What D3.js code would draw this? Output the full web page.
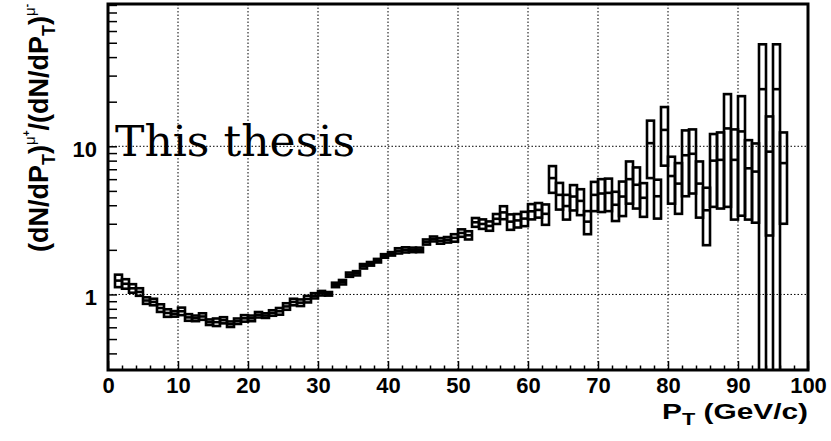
<!DOCTYPE html>
<html>
<head>
<meta charset="utf-8">
<script src="https://cdn.jsdelivr.net/npm/d3@7"></script>
<style>
body { margin: 0; background: #fff; }
</style>
</head>
<body>
<div id="chart"></div>
<script>
// lower edge of each 1 GeV/c bin
const binLow = [1, 2, 3, 4, 5, 6, 7, 8, 9, 10, 11, 12, 13, 14, 15, 16, 17, 18, 19, 20,
  21, 22, 23, 24, 25, 26, 27, 28, 29, 30, 31, 32, 33, 34, 35, 36, 37, 38, 39, 40,
  41, 42, 43, 44, 45, 46, 47, 48, 49, 50, 51, 52, 53, 54, 55, 56, 57, 58, 59, 60,
  61, 62, 63, 64, 65, 66, 67, 68, 69, 70, 71, 72, 73, 74, 75, 76, 77, 78, 79, 80,
  81, 82, 83, 84, 85, 86, 87, 88, 89, 90, 91, 92, 93, 94, 95, 96];
// mu+/mu- ratio
const ratio = [1.24, 1.18, 1.10, 1.04, 0.91, 0.89, 0.81, 0.75, 0.74, 0.77,
  0.70, 0.69, 0.71, 0.65, 0.65, 0.67, 0.63, 0.66, 0.69, 0.69,
  0.73, 0.72, 0.75, 0.77, 0.83, 0.89, 0.88, 0.93, 0.98, 1.02,
  1.01, 1.16, 1.21, 1.36, 1.39, 1.55, 1.61, 1.69, 1.82, 1.88,
  1.97, 2.00, 2.00, 2.00, 2.26, 2.37, 2.30, 2.34, 2.41, 2.60,
  2.51, 3.07, 2.99, 2.90, 3.24, 3.58, 3.10, 3.16, 3.25, 3.64,
  3.72, 3.50, 6.10, 4.70, 3.95, 4.58, 4.28, 3.10, 4.70, 4.80,
  4.85, 4.03, 4.58, 6.00, 5.50, 4.49, 10.5, 4.60, 12.9, 6.30,
  5.60, 8.70, 8.90, 5.60, 3.70, 8.00, 8.10, 13.2, 8.10, 12.6,
  7.10, 6.75, 24.3, 9.20, 24.3, 7.70];
const ratioErr = [0.12, 0.087, 0.073, 0.061, 0.046, 0.045, 0.048, 0.044, 0.032, 0.045,
  0.036, 0.030, 0.036, 0.028, 0.038, 0.032, 0.027, 0.028, 0.035, 0.030,
  0.031, 0.026, 0.032, 0.040, 0.042, 0.045, 0.045, 0.047, 0.040, 0.036,
  0.028, 0.040, 0.042, 0.045, 0.046, 0.054, 0.045, 0.047, 0.050, 0.050,
  0.080, 0.080, 0.070, 0.070, 0.090, 0.090, 0.10, 0.10, 0.14, 0.15,
  0.16, 0.21, 0.22, 0.21, 0.25, 0.36, 0.37, 0.33, 0.36, 0.43,
  0.42, 0.55, 1.25, 0.96, 0.75, 0.89, 0.85, 0.55, 1.05, 1.2,
  1.2, 0.9, 1.2, 1.9, 1.7, 1.15, 4.4, 1.35, 5.5, 2.2,
  2.1, 4.1, 4.1, 2.3, 1.55, 4.1, 4.3, 9.3, 4.9, 9.2,
  3.9, 3.7, 24.5, 6.7, 24.5, 4.7];
const xTicks = [0, 10, 20, 30, 40, 50, 60, 70, 80, 90, 100];
const yLabelTicks = [1, 10];

const width = 831, height = 441;
const frame = {left: 108, right: 808, top: 4, bottom: 370};
const fontSans = "'Liberation Sans', Arial, Helvetica, sans-serif";

const x = d3.scaleLinear().domain([0, 100]).range([frame.left, frame.right]);
const y = d3.scaleLog().domain([0.309, 91.3]).range([frame.bottom, frame.top]);

const svg = d3.select("#chart").append("svg")
  .attr("width", width)
  .attr("height", height)
  .style("display", "block");

svg.append("rect").attr("width", width).attr("height", height).attr("fill", "#fff");

svg.append("clipPath").attr("id", "plot-clip")
  .append("rect")
  .attr("x", frame.left).attr("y", frame.top)
  .attr("width", frame.right - frame.left)
  .attr("height", frame.bottom - frame.top);

// dotted grid
const grid = svg.append("g").attr("stroke", "#000").attr("stroke-width", 1)
  .attr("stroke-dasharray", "1.5,2");
grid.selectAll(".gx").data(xTicks.slice(1, -1)).enter().append("line")
  .attr("x1", d => x(d)).attr("x2", d => x(d))
  .attr("y1", frame.top).attr("y2", frame.bottom);
grid.selectAll(".gy").data(yLabelTicks).enter().append("line")
  .attr("x1", frame.left).attr("x2", frame.right)
  .attr("y1", d => y(d)).attr("y2", d => y(d));

// x axis, ticks pointing inside
const xMinor = d3.range(0, 101, 2).filter(d => d % 10 !== 0);
const xAxis = svg.append("g").attr("transform", `translate(0,${frame.bottom})`)
  .call(d3.axisBottom(x).tickValues(xTicks).tickSizeInner(-9).tickSizeOuter(0).tickPadding(9));
svg.append("g").attr("transform", `translate(0,${frame.bottom})`)
  .call(d3.axisBottom(x).tickValues(xMinor).tickSizeInner(-4.5).tickSizeOuter(0).tickFormat(""));

// y axis (log), minor ticks 2..9 per decade
const yTickVals = [];
[0.1, 1, 10].forEach(dec => {
  for (let k = 1; k < 10; k++) {
    const v = dec * k;
    if (v >= 0.309 && v <= 91.3) yTickVals.push(v);
  }
});
const yAxis = svg.append("g").attr("transform", `translate(${frame.left},0)`)
  .call(d3.axisLeft(y).tickValues(yTickVals).tickSizeInner(-9).tickSizeOuter(0).tickPadding(11)
    .tickFormat(d => yLabelTicks.some(t => Math.abs(t - d) < 1e-9) ? d3.format("d")(d) : ""));

svg.selectAll(".domain").remove();
svg.selectAll(".tick line").attr("stroke", "#000").attr("stroke-width", 1.5);
svg.selectAll(".tick text")
  .attr("fill", "#000")
  .style("font-family", fontSans)
  .style("font-weight", "bold")
  .style("font-size", "22px");
xAxis.selectAll(".tick text").attr("dy", "0.64em");
yAxis.selectAll(".tick text").attr("dy", "0.46em");

// error boxes
const boxes = svg.append("g").attr("clip-path", "url(#plot-clip)");
const bins = binLow.map((lo, i) => ({lo: lo, v: ratio[i], e: ratioErr[i]}));
boxes.selectAll("rect.box").data(bins).enter().append("rect")
  .attr("class", "box")
  .attr("x", d => x(d.lo))
  .attr("width", d => x(d.lo + 1) - x(d.lo))
  .attr("y", d => y(d.v + d.e))
  .attr("height", d => y(Math.max(d.v - d.e, 0.2)) - y(d.v + d.e))
  .attr("fill", "none")
  .attr("stroke", "#000")
  .attr("stroke-width", 2.6);
boxes.selectAll("line.mid").data(bins).enter().append("line")
  .attr("class", "mid")
  .attr("x1", d => x(d.lo)).attr("x2", d => x(d.lo + 1))
  .attr("y1", d => y(d.v)).attr("y2", d => y(d.v))
  .attr("stroke", "#000")
  .attr("stroke-width", 2.6);

// frame
svg.append("rect")
  .attr("x", frame.left).attr("y", frame.top)
  .attr("width", frame.right - frame.left)
  .attr("height", frame.bottom - frame.top)
  .attr("fill", "none")
  .attr("stroke", "#000")
  .attr("stroke-width", 3);

// x title
const xt = svg.append("text")
  .attr("x", frame.right).attr("y", 419)
  .attr("text-anchor", "end")
  .attr("textLength", 146)
  .attr("lengthAdjust", "spacingAndGlyphs")
  .style("font-family", fontSans).style("font-weight", "bold").style("font-size", "22px");
xt.append("tspan").text("P");
xt.append("tspan").attr("dy", 6).style("font-size", "16px").text("T");
xt.append("tspan").attr("dy", -6).text(" (GeV/c)");

// y title
const yt = svg.append("text")
  .attr("transform", `translate(48,${frame.top}) rotate(-90)`)
  .attr("text-anchor", "end")
  .style("font-family", fontSans).style("font-weight", "bold").style("font-size", "27px");
[["+", ""], ["-", "/"]].forEach(([sign, pre], i) => {
  yt.append("tspan").attr("dy", i === 0 ? 0 : 18).text(pre + "(dN/dP");
  yt.append("tspan").attr("dy", 7).style("font-size", "18px").text("T");
  yt.append("tspan").attr("dy", -7).text(")");
  yt.append("tspan").attr("dy", -13).style("font-size", "15px").style("font-weight", "normal").text("\u03bc");
  yt.append("tspan").attr("dy", -5).style("font-size", "10px").text(sign);
});

// label
svg.append("text")
  .attr("x", 115).attr("y", 156)
  .attr("textLength", 240)
  .attr("lengthAdjust", "spacingAndGlyphs")
  .style("font-family", "'DejaVu Serif', 'Liberation Serif', serif")
  .style("font-size", "43px")
  .text("This thesis");
</script>
</body>
</html>
